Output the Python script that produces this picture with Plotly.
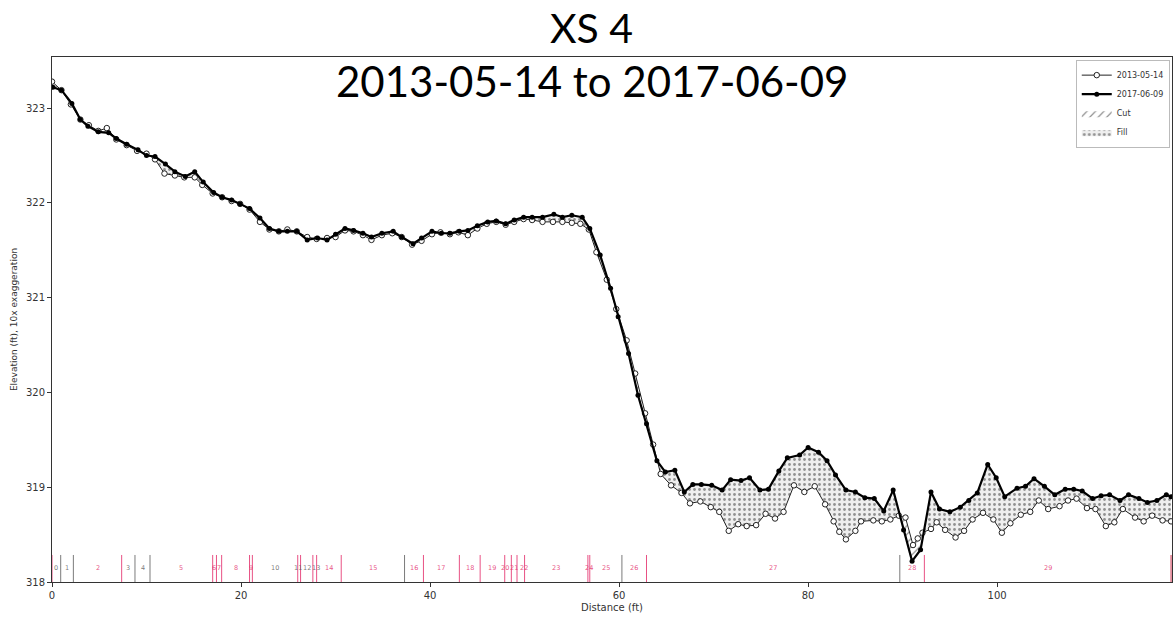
import numpy as np
import plotly.graph_objects as go

# ---------------- data ----------------
dist_2013 = [0.0, 1.0, 2.0, 3.0, 3.9, 4.9, 5.8, 6.8, 7.9, 9.0, 10.0, 10.9, 11.9, 13.0, 14.0, 15.1, 15.9,
             17.0, 18.0, 19.0, 19.9, 20.9, 22.0, 23.0, 24.0, 24.9, 25.9, 27.0, 28.0, 29.1, 30.0, 31.0,
             31.9, 32.9, 33.8, 34.9, 36.0, 37.0, 38.1, 39.1, 40.2, 41.1, 42.1, 43.0, 44.0, 45.0, 46.0,
             47.0, 48.0, 48.9, 49.9, 50.8, 51.9, 53.0, 54.0, 55.0, 55.9, 56.8, 57.6, 58.7, 59.7, 60.8,
             61.7, 62.75, 63.6, 64.4, 65.5, 66.6, 67.5, 68.6, 69.7, 70.6, 71.6, 72.6, 73.5, 74.5, 75.5,
             76.5, 77.4, 78.5, 79.6, 80.7, 81.8, 82.7, 83.3, 84.0, 85.0, 85.6, 86.9, 87.8, 88.7, 89.6,
             90.3, 91.1, 91.6, 92.1, 93.0, 93.6, 94.5, 95.6, 96.5, 97.4, 98.5, 99.6, 100.5, 101.4,
             102.5, 103.5, 104.4, 105.4, 106.6, 107.5, 108.4, 109.5, 110.4, 111.5, 112.4, 113.3,
             114.6, 115.5, 116.4, 117.5, 118.4]
elev_2013 = [323.28, 323.19, 323.04, 322.88, 322.82, 322.76, 322.79, 322.67, 322.61, 322.55, 322.52,
             322.46, 322.31, 322.29, 322.27, 322.27, 322.19, 322.10, 322.06, 322.02, 321.99, 321.93,
             321.80, 321.72, 321.70, 321.72, 321.70, 321.64, 321.62, 321.63, 321.64, 321.71, 321.70,
             321.66, 321.61, 321.66, 321.68, 321.64, 321.56, 321.60, 321.67, 321.69, 321.67, 321.69,
             321.66, 321.73, 321.78, 321.80, 321.77, 321.80, 321.83, 321.82, 321.80, 321.80, 321.80,
             321.79, 321.78, 321.72, 321.48, 321.19, 320.88, 320.55, 320.20, 319.78, 319.45, 319.14,
             319.02, 318.94, 318.83, 318.85, 318.79, 318.74, 318.54, 318.61, 318.59, 318.60, 318.72,
             318.67, 318.74, 319.02, 318.95, 319.01, 318.82, 318.64, 318.53, 318.45, 318.54, 318.64,
             318.65, 318.64, 318.66, 318.70, 318.68, 318.39, 318.46, 318.52, 318.56, 318.63, 318.55,
             318.47, 318.54, 318.66, 318.73, 318.66, 318.52, 318.62, 318.71, 318.74, 318.86, 318.77,
             318.80, 318.86, 318.88, 318.78, 318.77, 318.59, 318.63, 318.77, 318.68, 318.64, 318.70,
             318.65, 318.64]

dist_2017 = [0.1, 1.0, 2.1, 3.0, 3.8, 4.9, 6.0, 6.8, 7.9, 9.1, 10.0, 10.9, 12.0, 13.0, 14.1, 15.1, 16.0,
             17.1, 18.0, 19.0, 19.9, 20.9, 22.0, 23.0, 24.0, 24.9, 25.9, 27.0, 28.1, 29.1, 30.0, 31.0,
             31.9, 32.9, 33.8, 34.9, 36.1, 37.0, 38.2, 39.1, 40.2, 41.2, 42.1, 43.1, 44.0, 45.0, 46.1,
             47.0, 48.0, 48.9, 49.9, 50.8, 51.9, 53.1, 54.0, 55.0, 56.1, 56.9, 58.0, 59.1, 59.9, 61.0,
             62.0, 62.9, 64.0, 64.9, 65.9, 66.9, 67.8, 68.7, 69.8, 70.9, 71.8, 72.9, 73.8, 74.9, 75.8,
             76.9, 77.8, 79.1, 80.0, 81.1, 82.0, 82.9, 84.0, 85.0, 86.0, 87.0, 88.0, 89.0, 90.1, 91.0,
             91.9, 93.0, 93.9, 95.0, 96.1, 97.0, 97.9, 99.0, 99.9, 100.8, 102.1, 103.0, 103.9, 105.0,
             106.1, 107.2, 108.1, 109.0, 110.1, 111.0, 111.9, 113.0, 113.9, 115.0, 115.9, 116.9,
             117.9, 118.4]
elev_2017 = [323.22, 323.19, 323.05, 322.88, 322.81, 322.75, 322.74, 322.68, 322.62, 322.56, 322.50,
             322.49, 322.41, 322.33, 322.28, 322.33, 322.22, 322.11, 322.06, 322.03, 321.99, 321.94,
             321.84, 321.73, 321.70, 321.70, 321.70, 321.61, 321.63, 321.61, 321.67, 321.73, 321.71,
             321.68, 321.64, 321.68, 321.70, 321.64, 321.57, 321.63, 321.70, 321.68, 321.68, 321.70,
             321.71, 321.76, 321.80, 321.81, 321.78, 321.82, 321.85, 321.85, 321.85, 321.88, 321.85,
             321.87, 321.85, 321.73, 321.45, 321.10, 320.80, 320.41, 319.97, 319.67, 319.28, 319.16,
             319.18, 318.95, 319.03, 319.03, 319.02, 318.97, 319.08, 319.07, 319.10, 318.97, 318.98,
             319.17, 319.31, 319.34, 319.42, 319.37, 319.28, 319.13, 318.97, 318.95, 318.89, 318.88,
             318.75, 318.97, 318.55, 318.22, 318.34, 318.95, 318.77, 318.74, 318.79, 318.86, 318.94,
             319.24, 319.10, 318.90, 318.99, 319.01, 319.09, 319.01, 318.92, 318.98, 318.98, 318.96,
             318.88, 318.91, 318.92, 318.86, 318.92, 318.88, 318.84, 318.86, 318.92, 318.90]

segment_bounds = [0.0, 0.92, 2.26, 7.37, 8.78, 10.37, 17.0, 17.4, 17.95, 20.9, 21.2, 26.0, 26.3, 27.6,
                  28.0, 30.6, 37.3, 39.3, 43.1, 45.3, 47.9, 48.6, 49.2, 50.0, 56.7, 56.9, 60.3, 62.9,
                  89.7, 92.3, 118.4]
segment_labels = ["0", "1", "2", "3", "4", "5", "6", "7", "8", "9", "10", "11", "12", "13", "14",
                  "15", "16", "17", "18", "19", "20", "21", "22", "23", "24", "25", "26", "27", "28", "29"]

x_ticks = [0, 20, 40, 60, 80, 100]
y_ticks = [318, 319, 320, 321, 322, 323]

title_main = "XS 4"
title_sub = "2013-05-14 to 2017-06-09"
name_2013 = "2013-05-14"
name_2017 = "2017-06-09"

# ---------------- styles ----------------
PINK = "rgba(228,50,110,0.85)"
GRAY = "rgba(90,90,90,0.8)"
bound_colors = [PINK, GRAY, GRAY, PINK, GRAY, GRAY, PINK, PINK, PINK, PINK, PINK, PINK, PINK, PINK,
                PINK, PINK, GRAY, PINK, PINK, PINK, PINK, PINK, PINK, PINK, PINK, PINK, GRAY, PINK,
                GRAY, PINK, "rgba(200,30,60,0.9)"]
label_colors = [GRAY, GRAY, PINK, GRAY, GRAY, PINK, PINK, PINK, PINK, PINK, GRAY, GRAY, GRAY, GRAY,
                PINK, PINK, PINK, PINK, PINK, PINK, PINK, PINK, PINK, PINK, PINK, PINK, PINK, PINK,
                PINK, PINK]
LABEL_SIZE = 6.5
X_MAX = 118.5
PLOT_W = 1176 - 52 - 4

# ---------------- cut / fill polygons ----------------
x13 = np.array(dist_2013); y13 = np.array(elev_2013)
x17 = np.array(dist_2017); y17 = np.array(elev_2017)
lo = max(x13.min(), x17.min()); hi = min(x13.max(), x17.max())
grid = np.union1d(x13, x17)
grid = grid[(grid >= lo) & (grid <= hi)]
a = np.interp(grid, x13, y13)
b = np.interp(grid, x17, y17)
d = b - a
pts = list(grid)
for i in range(len(grid) - 1):
    if d[i] * d[i + 1] < 0:
        t = d[i] / (d[i] - d[i + 1])
        pts.append(grid[i] + t * (grid[i + 1] - grid[i]))
gx = np.array(sorted(pts))
ga = np.interp(gx, x13, y13)
gb = np.interp(gx, x17, y17)

fig = go.Figure()

# Fill (2017 above 2013)
fig.add_trace(go.Scatter(x=gx, y=ga, mode="lines", line=dict(width=0), showlegend=False,
                         hoverinfo="skip"))
fig.add_trace(go.Scatter(x=gx, y=np.maximum(ga, gb), mode="lines", line=dict(width=0),
                         fill="tonexty", fillcolor="rgba(255,255,255,0)",
                         fillpattern=dict(shape=".", fgcolor="#333333", bgcolor="#efefef",
                                          size=5, solidity=0.25),
                         name="Fill", legendrank=4, hoverinfo="skip"))
# Cut (2013 above 2017)
fig.add_trace(go.Scatter(x=gx, y=gb, mode="lines", line=dict(width=0), showlegend=False,
                         hoverinfo="skip"))
fig.add_trace(go.Scatter(x=gx, y=np.maximum(ga, gb), mode="lines", line=dict(width=0),
                         fill="tonexty", fillcolor="rgba(255,255,255,0)",
                         fillpattern=dict(shape="/", fgcolor="#222222", bgcolor="white",
                                          size=6, solidity=0.2),
                         name="Cut", legendrank=3, hoverinfo="skip"))

fig.add_trace(go.Scatter(x=dist_2013, y=elev_2013, mode="lines+markers", name=name_2013,
                         line=dict(color="#222", width=1),
                         marker=dict(symbol="circle", size=5.5, color="white",
                                     line=dict(color="#222", width=1)),
                         legendrank=1))
fig.add_trace(go.Scatter(x=dist_2017, y=elev_2017, mode="lines+markers", name=name_2017,
                         line=dict(color="black", width=2.2),
                         marker=dict(symbol="circle", size=5, color="black"),
                         legendrank=2))

shapes = []
for xb, c in zip(segment_bounds, bound_colors):
    shapes.append(dict(type="line", xref="x", yref="y", x0=xb, x1=xb, y0=318, y1=318.285,
                       line=dict(color=c, width=1)))

# segment label centres (midpoints), spread apart slightly where segments are very narrow
px_per_ft = PLOT_W / X_MAX
mids = [0.5 * (segment_bounds[i] + segment_bounds[i + 1]) for i in range(len(segment_labels))]
half_w = [len(l) * 0.64 * LABEL_SIZE / 2 / px_per_ft + 0.05 for l in segment_labels]
pos = list(mids)
for _ in range(60):
    moved = False
    for i in range(len(pos) - 1):
        need = half_w[i] + half_w[i + 1]
        gap = pos[i + 1] - pos[i]
        if gap < need:
            s = (need - gap) / 2
            pos[i] -= s
            pos[i + 1] += s
            moved = True
    if not moved:
        break

annotations = []
for i, lab in enumerate(segment_labels):
    annotations.append(dict(x=pos[i], y=318.15, xref="x", yref="y", text=lab, showarrow=False,
                            font=dict(size=LABEL_SIZE, color=label_colors[i], family="DejaVu Sans")))

annotations.append(dict(x=0.482, y=1.056, xref="paper", yref="paper", text=title_main,
                        showarrow=False, xanchor="center", yanchor="middle",
                        font=dict(family="Lato", size=41, color="black")))
annotations.append(dict(x=0.482, y=0.954, xref="paper", yref="paper", text=title_sub,
                        showarrow=False, xanchor="center", yanchor="middle",
                        font=dict(family="Lato", size=42, color="black")))

fig.update_layout(
    width=1176, height=617,
    margin=dict(l=52, r=4, t=57, b=35),
    paper_bgcolor="white", plot_bgcolor="white",
    showlegend=True,
    legend=dict(x=0.998, y=0.995, xanchor="right", yanchor="top", bgcolor="white",
                bordercolor="#bbbbbb", borderwidth=1, traceorder="normal",
                font=dict(size=8, family="DejaVu Sans", color="#333"),
                itemwidth=30, tracegroupgap=0),
    shapes=shapes,
    annotations=annotations,
    xaxis=dict(range=[0, X_MAX], tickvals=x_ticks, showgrid=False, zeroline=False,
               showline=True, mirror=True, linecolor="#333", linewidth=1,
               ticks="outside", ticklen=4, tickcolor="#333", automargin=False,
               tickfont=dict(size=10, family="DejaVu Sans", color="#333"),
               title=dict(text="Distance (ft)", standoff=3,
                          font=dict(size=10, family="DejaVu Sans", color="#333"))),
    yaxis=dict(range=[318, 323.54], tickvals=y_ticks, showgrid=False, zeroline=False,
               showline=True, mirror=True, linecolor="#333", linewidth=1,
               ticks="outside", ticklen=4, tickcolor="#333", automargin=False,
               tickfont=dict(size=10, family="DejaVu Sans", color="#333"),
               title=dict(text="Elevation (ft), 10x exaggeration", standoff=6,
                          font=dict(size=9, family="DejaVu Sans", color="#333"))),
)

fig.write_html("out.html")
